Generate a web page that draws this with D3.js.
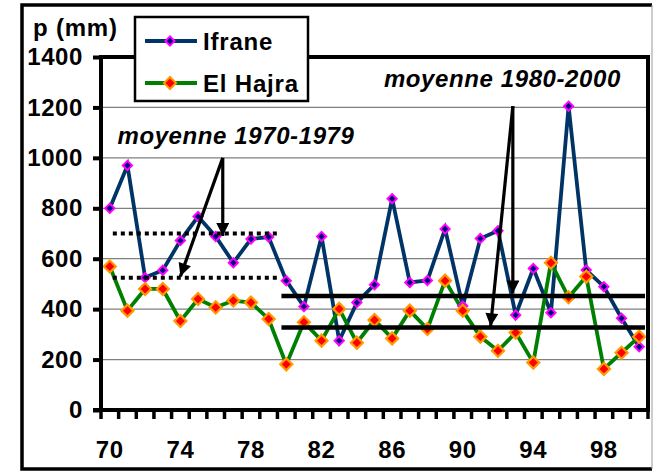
<!DOCTYPE html>
<html>
<head>
<meta charset="utf-8">
<script src="https://cdn.jsdelivr.net/npm/d3@7"></script>
<style>
  body { margin: 0; background: #fff; }
  text { font-family: "Liberation Sans", Arial, sans-serif; font-weight: bold; }
</style>
</head>
<body>
<div id="chart"></div>
<script>
// years (19xx) and annual rainfall, mm
const years = [70, 71, 72, 73, 74, 75, 76, 77, 78, 79, 80, 81, 82, 83, 84, 85,
  86, 87, 88, 89, 90, 91, 92, 93, 94, 95, 96, 97, 98, 99, 100];
const ifrane = [800, 970, 525, 554, 672, 767, 688, 584, 678, 686, 513, 410, 688, 275, 426, 497,
  838, 506, 514, 718, 412, 680, 711, 377, 561, 386, 1205, 555, 489, 364, 251];
const hajra = [569, 394, 480, 480, 353, 440, 407, 434, 426, 361, 181, 348, 275, 401, 267, 357,
  284, 394, 321, 513, 394, 291, 235, 307, 188, 584, 447, 529, 163, 227, 291];

const yTicks = [0, 200, 400, 600, 800, 1000, 1200, 1400];
const xLabels = [70, 74, 78, 82, 86, 90, 94, 98];

// period means drawn as horizontal lines
const periodNames = ["moyenne 1970-1979", "moyenne 1980-2000"];
const periodStart = [70, 80];
const meanIfrane = [700, 452];
const meanHajra = [525, 327];

const width = 653;
const height = 472;
const plot = { left: 101, top: 57, right: 648, bottom: 410 };

const svg = d3.select("#chart")
  .append("svg")
  .attr("width", width)
  .attr("height", height);

const x = d3.scaleBand()
  .domain(years)
  .range([plot.left, plot.right]);
const xc = d => x(d) + x.bandwidth() / 2;

const y = d3.scaleLinear()
  .domain([0, 1400])
  .range([plot.bottom, plot.top]);

// arrowhead
svg.append("defs").append("marker")
  .attr("id", "head")
  .attr("markerUnits", "userSpaceOnUse")
  .attr("viewBox", "0 0 10 10")
  .attr("refX", 10).attr("refY", 5)
  .attr("markerWidth", 14).attr("markerHeight", 13)
  .attr("orient", "auto")
  .append("path")
  .attr("d", "M0,0 L10,5 L0,10 Z")
  .attr("fill", "#000");

// gridlines
svg.append("g")
  .selectAll("line")
  .data(yTicks.slice(1, -1))
  .enter()
  .append("line")
  .attr("x1", plot.left).attr("x2", plot.right)
  .attr("y1", d => y(d)).attr("y2", d => y(d))
  .attr("stroke", "#808080")
  .attr("stroke-width", 1.2);

// series lines
const line = vals => d3.line()
  .x((d, i) => xc(years[i]))
  .y(d => y(d))(vals);

svg.append("path")
  .attr("d", line(ifrane))
  .attr("fill", "none")
  .attr("stroke", "#003366")
  .attr("stroke-width", 3.8);

svg.append("path")
  .attr("d", line(hajra))
  .attr("fill", "none")
  .attr("stroke", "#008000")
  .attr("stroke-width", 3.8);

const diamond = (size) => d3.symbol(d3.symbolSquare, size)();

svg.append("g")
  .selectAll("path")
  .data(ifrane)
  .enter()
  .append("path")
  .attr("d", diamond(42))
  .attr("transform", (d, i) => "translate(" + xc(years[i]) + "," + y(d) + ") rotate(45)")
  .attr("fill", "#000080")
  .attr("stroke", "#ff00ff")
  .attr("stroke-width", 2);

svg.append("g")
  .selectAll("path")
  .data(hajra)
  .enter()
  .append("path")
  .attr("d", diamond(72))
  .attr("transform", (d, i) => "translate(" + xc(years[i]) + "," + y(d) + ") rotate(45)")
  .attr("fill", "#ff0000")
  .attr("stroke", "#ff9900")
  .attr("stroke-width", 2.2);

// mean lines (dotted for 1970-1979, solid for 1980-2000)
const meanX1 = [xc(periodStart[0]) + 3, x(periodStart[1]) + 4];
const meanX2 = [x(periodStart[1]), plot.right - 3];
[meanIfrane, meanHajra].forEach(means => {
  svg.append("g")
    .selectAll("line")
    .data(means)
    .enter()
    .append("line")
    .attr("x1", (d, i) => meanX1[i])
    .attr("x2", (d, i) => meanX2[i])
    .attr("y1", d => y(d)).attr("y2", d => y(d))
    .attr("stroke", "#000")
    .attr("stroke-width", (d, i) => i === 0 ? 4 : 4.5)
    .attr("stroke-dasharray", (d, i) => i === 0 ? "4,4" : null);
});

// annotation arrows: from a common origin to each mean line
const arrowFrom = [[76.4, 1000], [92.84, 1205]];
const arrowTo = [
  [[76.4, 690], [74.0, 530]],
  [[92.84, 462], [91.58, 332]]
];
const px = (yr) => plot.left + (yr - years[0] + 0.5) * x.bandwidth();

arrowTo.forEach((targets, k) => {
  svg.append("g")
    .selectAll("line")
    .data(targets)
    .enter()
    .append("line")
    .attr("x1", px(arrowFrom[k][0]))
    .attr("y1", y(arrowFrom[k][1]))
    .attr("x2", d => px(d[0]))
    .attr("y2", d => y(d[1]))
    .attr("stroke", "#000")
    .attr("stroke-width", 3.2)
    .attr("marker-end", "url(#head)");
});

// annotation texts
const textPos = [[77.15, 1055], [92.25, 1282]];
svg.append("g")
  .selectAll("text")
  .data(periodNames)
  .enter()
  .append("text")
  .attr("x", (d, i) => px(textPos[i][0]))
  .attr("y", (d, i) => y(textPos[i][1]))
  .attr("text-anchor", "middle")
  .style("font-style", "italic")
  .style("font-size", "24px")
  .style("letter-spacing", "0.6px")
  .text(d => d);

// plot border and axes
svg.append("path")
  .attr("d", "M" + plot.left + "," + plot.top + " H" + plot.right + " V" + plot.bottom)
  .attr("fill", "none")
  .attr("stroke", "#000")
  .attr("stroke-width", 4);

const yAxis = svg.append("g")
  .attr("transform", "translate(" + plot.left + ",0)")
  .call(d3.axisLeft(y).tickValues(yTicks).tickFormat(d3.format("d"))
    .tickSize(8).tickSizeOuter(0).tickPadding(10));
yAxis.select(".domain").remove();
yAxis.append("line")
  .attr("y1", plot.top - 2).attr("y2", plot.bottom + 2)
  .attr("stroke", "#000")
  .attr("stroke-width", 4);
yAxis.selectAll(".tick line")
  .attr("stroke", "#000")
  .attr("stroke-width", 4);
yAxis.selectAll(".tick text")
  .style("font-size", "24px")
  .style("font-family", "'Liberation Sans', Arial, sans-serif")
  .style("font-weight", "bold")
  .style("letter-spacing", "0.6px")
  .attr("fill", "#000");

// x axis: ticks on category boundaries, labels every 4 years
const xAxis = svg.append("g")
  .attr("transform", "translate(0," + plot.bottom + ")");
xAxis.append("line")
  .attr("x1", plot.left - 8).attr("x2", plot.right + 2)
  .attr("stroke", "#000")
  .attr("stroke-width", 4);
xAxis.selectAll(".xt")
  .data(years.concat([null]))
  .enter()
  .append("line")
  .attr("class", "xt")
  .attr("x1", d => d === null ? plot.right : x(d))
  .attr("x2", d => d === null ? plot.right : x(d))
  .attr("y1", 0).attr("y2", 9)
  .attr("stroke", "#000")
  .attr("stroke-width", 3.5);
xAxis.selectAll(".xl")
  .data(xLabels)
  .enter()
  .append("text")
  .attr("class", "xl")
  .attr("x", d => xc(d))
  .attr("y", 48)
  .attr("text-anchor", "middle")
  .style("font-size", "24px")
  .style("letter-spacing", "0.6px")
  .text(d => d);

// axis title
svg.append("text")
  .attr("x", 33).attr("y", 36)
  .style("font-size", "24px")
  .style("letter-spacing", "0.8px")
  .text("p (mm)");

// legend
const legendNames = ["Ifrane", "El Hajra"];
const legendColors = ["#003366", "#008000"];
const legendFill = ["#000080", "#ff0000"];
const legendStroke = ["#ff00ff", "#ff9900"];
const legendSize = [42, 72];

const legend = svg.append("g");
legend.append("rect")
  .attr("x", 135).attr("y", 17)
  .attr("width", 173).attr("height", 84)
  .attr("fill", "#fff")
  .attr("stroke", "#000")
  .attr("stroke-width", 2.5);

const items = legend.selectAll(".item")
  .data(legendNames)
  .enter()
  .append("g")
  .attr("transform", (d, i) => "translate(0," + (41 + i * 42) + ")");
items.append("line")
  .attr("x1", 145).attr("x2", 197)
  .attr("stroke", (d, i) => legendColors[i])
  .attr("stroke-width", 3.8);
items.append("path")
  .attr("d", (d, i) => diamond(legendSize[i]))
  .attr("transform", "translate(170,0) rotate(45)")
  .attr("fill", (d, i) => legendFill[i])
  .attr("stroke", (d, i) => legendStroke[i])
  .attr("stroke-width", 2);
items.append("text")
  .attr("x", 203).attr("y", 9)
  .style("font-size", "24px")
  .style("letter-spacing", "0.8px")
  .text(d => d);

// outer frame
svg.append("path")
  .attr("d", "M652,5 H22 V469 H652")
  .attr("fill", "none")
  .attr("stroke", "#000")
  .attr("stroke-width", 3.5);
svg.append("line")
  .attr("x1", 652).attr("x2", 652).attr("y1", 5).attr("y2", 469)
  .attr("stroke", "#999")
  .attr("stroke-width", 1);
</script>
</body>
</html>
